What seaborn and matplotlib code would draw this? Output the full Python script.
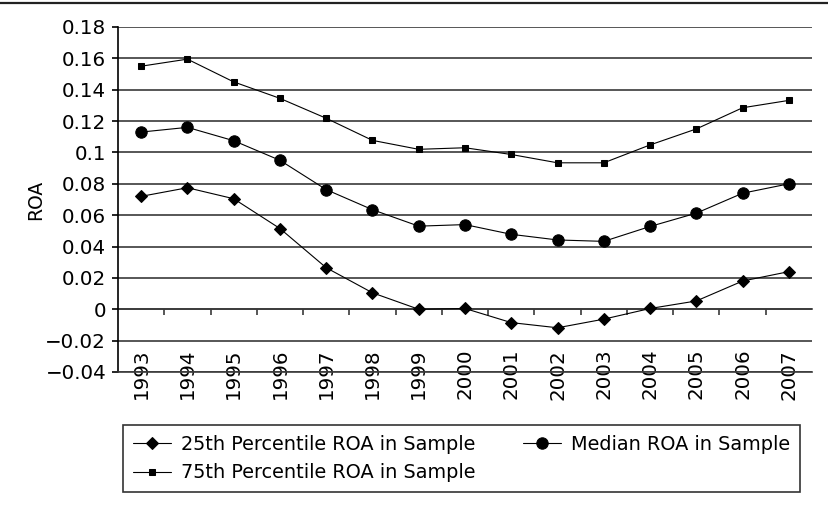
import matplotlib.pyplot as plt
from matplotlib.lines import Line2D
import seaborn as sns
import pandas as pd

YEARS = [1993, 1994, 1995, 1996, 1997, 1998, 1999, 2000,
         2001, 2002, 2003, 2004, 2005, 2006, 2007]
P25 = [0.072, 0.0775, 0.0705, 0.0515, 0.0265, 0.0105, 0.0, 0.0005,
       -0.0085, -0.0118, -0.0063, 0.0005, 0.0053, 0.018, 0.024]
MEDIAN = [0.113, 0.116, 0.1075, 0.095, 0.0763, 0.0635, 0.053, 0.054,
          0.0478, 0.0442, 0.0433, 0.0528, 0.0613, 0.074, 0.080]
P75 = [0.155, 0.1595, 0.145, 0.1345, 0.1218, 0.1077, 0.102, 0.103,
       0.0987, 0.0934, 0.0934, 0.1048, 0.115, 0.1285, 0.1332]
YTICKS = [-0.04, -0.02, 0, 0.02, 0.04, 0.06, 0.08, 0.1,
          0.12, 0.14, 0.16, 0.18]
YLABELS = ['\u22120.04', '\u22120.02', '0', '0.02', '0.04', '0.06', '0.08',
           '0.1', '0.12', '0.14', '0.16', '0.18']

SERIES = [
    # label, values, marker, size
    ('25th Percentile ROA in Sample', P25, 'D', 6.5),
    ('75th Percentile ROA in Sample', P75, 's', 4.3),
    ('Median ROA in Sample', MEDIAN, 'o', 8.2),
]

sns.set_theme(style='white')
plt.rcParams['font.family'] = ['DejaVu Sans']
plt.rcParams['text.color'] = 'black'

fig = plt.figure(figsize=(8.29, 5.16), dpi=100)
ax = fig.add_axes([118 / 829, 1 - 372 / 516, (812 - 118) / 829, (372 - 27) / 516])

for label, vals, marker, ms in SERIES:
    df = pd.DataFrame({'year': YEARS, 'roa': vals})
    sns.lineplot(data=df, x='year', y='roa', ax=ax, color='black',
                 linewidth=0.8, marker=marker, markersize=ms,
                 markeredgecolor='black', markerfacecolor='black',
                 label=label, legend=False)

ymin, ymax = YTICKS[0], YTICKS[-1]
ax.set_ylim(ymin, ymax)
ax.set_xlim(YEARS[0] - 0.5, YEARS[-1] + 0.5)
ax.set_yticks(YTICKS, YLABELS)
ax.grid(axis='y', color='#3a3a3a', linewidth=1.2)
ax.grid(axis='x', visible=False)
ax.set_axisbelow(True)

for s in ['top', 'right']:
    ax.spines[s].set_visible(False)
ax.spines['left'].set_color('black')
ax.spines['left'].set_linewidth(1.2)
ax.spines['bottom'].set_color('#3a3a3a')
ax.spines['bottom'].set_linewidth(1.2)

ax.tick_params(axis='y', which='major', left=True, length=4.5, width=1.2,
               color='black', direction='out', pad=4, labelsize=14.3,
               labelcolor='black')
ax.tick_params(axis='x', bottom=False, labelbottom=False)
ax.set_xlabel('')
ax.set_ylabel('ROA', fontsize=13.5, color='black', labelpad=0)

# x axis crossing at zero, category ticks between years
sec = ax.secondary_xaxis((0 - ymin) / (ymax - ymin))
sec.spines['bottom'].set_color('#3a3a3a')
sec.spines['bottom'].set_linewidth(1.2)
sec.set_xticks(YEARS, [str(y) for y in YEARS])
sec.set_xticks([y + 0.5 for y in YEARS[:-1]], minor=True)
sec.tick_params(axis='x', which='major', length=0, pad=28.5,
                labelsize=14.3, labelrotation=90, labelcolor='black')
sec.tick_params(axis='x', which='minor', length=4, width=1.2,
                color='#3a3a3a', direction='out')

handles = [l for l in ax.get_lines()[:len(SERIES)]]
labels = [s[0] for s in SERIES]
leg = fig.legend(handles, labels, ncol=2, loc='upper left',
                 bbox_to_anchor=(123 / 829, 1 - 425 / 516),
                 frameon=True, fancybox=False, labelcolor='black',
                 framealpha=1, edgecolor='#333333', borderpad=0.5,
                 labelspacing=0.5, handlelength=2.0, handletextpad=0.5,
                 columnspacing=2.45, borderaxespad=0,
                 prop={'family': 'DejaVu Sans', 'size': 13.9})
leg.get_frame().set_linewidth(1.2)

# rule across the top of the page
fig.add_artist(Line2D([0, 1], [1 - 3 / 516, 1 - 3 / 516],
                      transform=fig.transFigure, color='#222222',
                      linewidth=1.6))

fig.savefig('out.png', dpi=100, facecolor='white')
